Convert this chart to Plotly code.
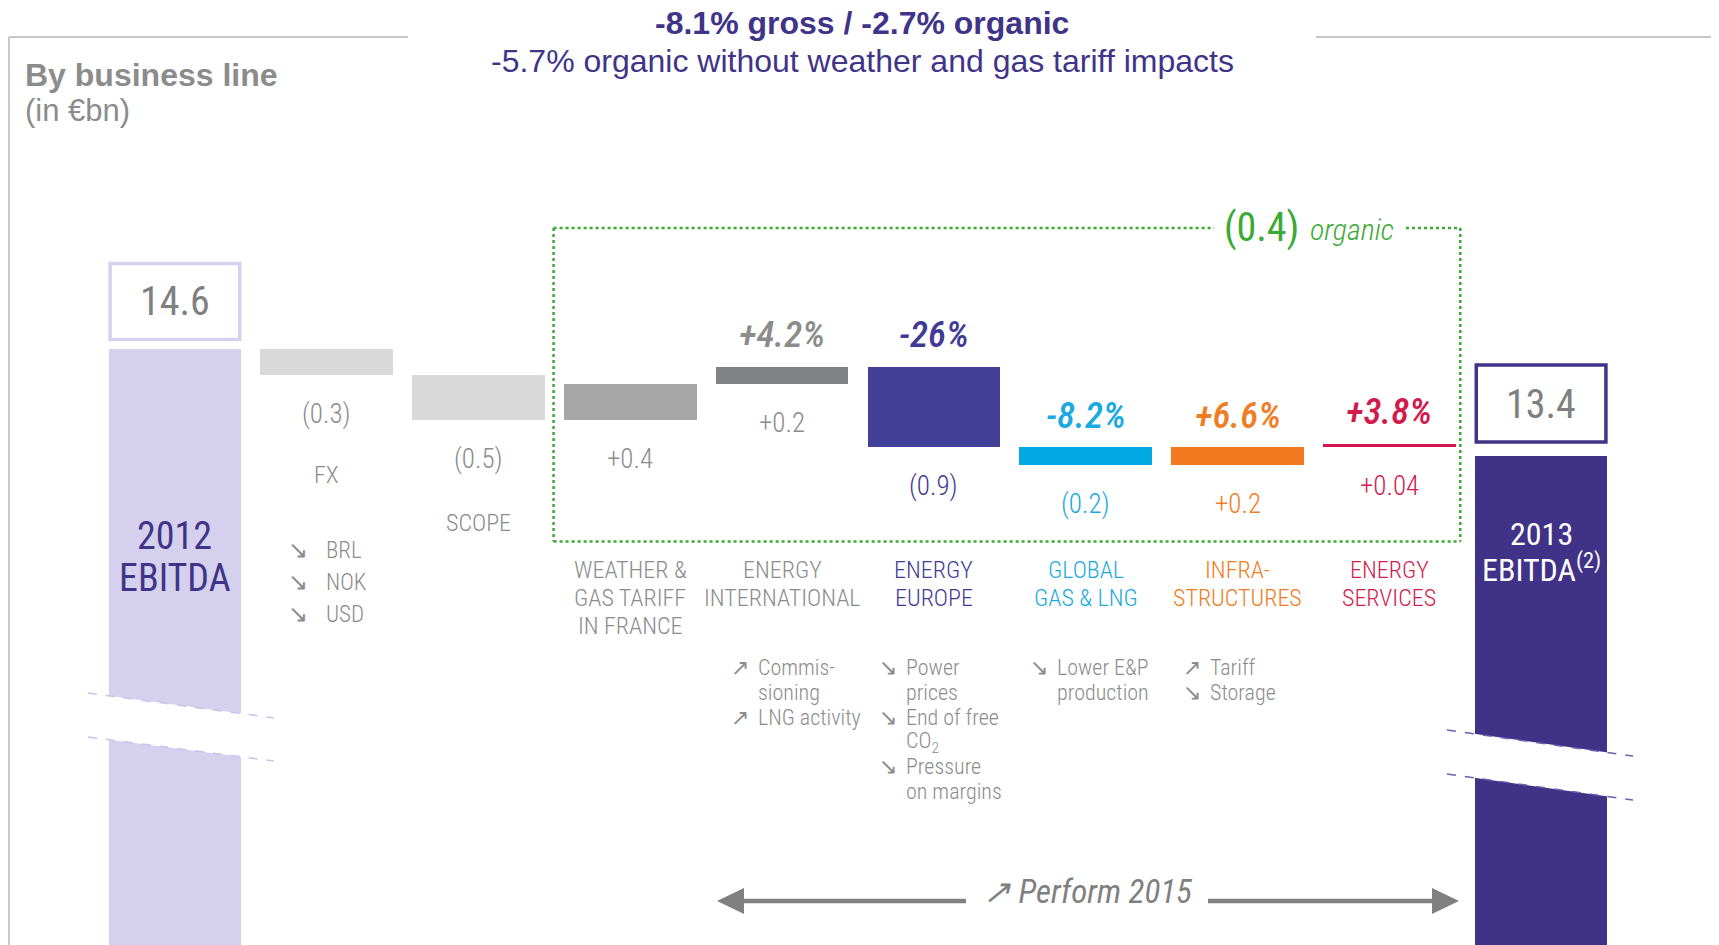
import plotly.graph_objects as go

W, H = 1719, 945

# ---- data (EUR bn) ----
steps = ["2012", "FX", "SCOPE", "WEATHER", "EI", "EE", "GGL", "INFRA", "ES", "2013"]
start_total = 14.6
end_total = 13.4
deltas = [-0.3, -0.5, 0.4, 0.2, -0.9, -0.2, 0.2, 0.04]
delta_labels = ["(0.3)", "(0.5)", "+0.4", "+0.2", "(0.9)", "(0.2)", "+0.2", "+0.04"]
growth_labels = ["", "", "", "+4.2%", "-26%", "-8.2%", "+6.6%", "+3.8%"]
category_labels = [[], ["FX"], ["SCOPE"], ["WEATHER &", "GAS TARIFF", "IN FRANCE"], ["ENERGY", "INTERNATIONAL"],
                   ["ENERGY", "EUROPE"], ["GLOBAL", "GAS & LNG"], ["INFRA-", "STRUCTURES"], ["ENERGY", "SERVICES"], []]
organic_total = "(0.4)"
bar_colors = ["#D5D0EE", "#D9D9D9", "#D9D9D9", "#A6A6A6", "#808285", "#423F99",
              "#00A9E3", "#F37A21", "#D5154D", "#3F3287"]
text_colors = ["#3F3488", "#8C8C8C", "#8C8C8C", "#8C8C8C", "#8C8C8C", "#3F3A96",
               "#1BA9E1", "#F07D23", "#D21B4D", "#FFFFFF"]
fx_items = ["BRL", "NOK", "USD"]
notes = {
    4: [("↗", ["Commis-", "sioning"]), ("↗", ["LNG activity"])],
    5: [("↘", ["Power", "prices"]), ("↘", ["End of free", "CO<sub>2</sub>"]), ("↘", ["Pressure", "on margins"])],
    6: [("↘", ["Lower E&P", "production"])],
    7: [("↗", ["Tariff"]), ("↘", ["Storage"])],
}

# ---- waterfall geometry from the data ----
bases, heights = [0], [start_total]
level = start_total
for d in deltas:
    bases.append(min(level, level + d))
    heights.append(abs(d))
    level += d
bases.append(0)
heights.append(end_total)
xs = list(range(len(steps)))

# page pixel <-> axis mapping (the page body adds an 8px margin)
OFF = 8
X0PX, XSTEP = 174.9 - OFF, 151.8
PPU, YREFPX = 89.6, 348.6 - OFF
BW = 0.874
xr = [-X0PX / XSTEP, (W - X0PX) / XSTEP]
yr = [start_total - (H - YREFPX) / PPU, start_total + YREFPX / PPU]

NARROW = "Liberation Sans Narrow, Roboto Condensed, Roboto, sans-serif"
ARIAL = "Liberation Sans, Arial, sans-serif"
GRAY = "#8C8C8C"
GREEN = "#3BAA34"


def px(x):
    return (x - OFF) / W


def py(y):
    return 1 - (y - OFF) / H


fig = go.Figure(go.Bar(x=xs, y=heights, base=bases, width=BW, marker=dict(color=bar_colors, line_width=0),
                       hoverinfo="skip"))

ann = []


def text(x, y, t, size, color, family=NARROW, xref="paper", yref="paper", xanchor="center", yanchor="middle",
         weight="normal", **kw):
    ann.append(dict(x=x, y=y, xref=xref, yref=yref, text=t, showarrow=False, xanchor=xanchor, yanchor=yanchor,
                    font=dict(size=size, color=color, family=family, weight=weight), **kw))


# titles
text(px(862), py(23), "<b>-8.1% gross / -2.7% organic</b>", 32, "#3F3488", ARIAL)
text(px(862), py(61), "-5.7% organic without weather and gas tariff impacts", 32, "#3F3488", ARIAL)
text(px(23), py(75), "<b>By business line</b>", 32, GRAY, ARIAL, xanchor="left")
text(px(23), py(111), "(in €bn)", 31, GRAY, ARIAL, xanchor="left")

# totals
text(0, start_total, "14.6", 40, "#808080", xref="x", yref="y", yshift=47)
text(9, end_total, "13.4", 40, "#808080", xref="x", yref="y", yshift=52)
text(0, start_total, "2012", 38, text_colors[0], xref="x", yref="y", yshift=-187)
text(0, start_total, "EBITDA", 38, text_colors[0], xref="x", yref="y", yshift=-229)
text(9, end_total, "2013", 32, text_colors[9], xref="x", yref="y", yshift=-78)
text(9, end_total, "EBITDA<sup>(2)</sup>", 32, text_colors[9], xref="x", yref="y", yshift=-112)

# deltas
for i in range(1, 9):
    text(i, bases[i], delta_labels[i - 1], 27, text_colors[i], xref="x", yref="y", yshift=-39, weight=300)
    if growth_labels[i - 1]:
        text(i, bases[i] + heights[i], "<i>" + growth_labels[i - 1] + "</i>", 37, text_colors[i],
             xref="x", yref="y", yshift=32, weight=500)

# category labels
text(1, py(475), category_labels[1][0], 24, GRAY, xref="x", weight=300)
text(2, py(523), category_labels[2][0], 24, GRAY, xref="x", weight=300)
for i in range(3, 9):
    for k, ln in enumerate(category_labels[i]):
        text(i, py(570 + k * 28), ln, 24, text_colors[i], xref="x", weight=300)

# FX currencies
for k, c in enumerate(fx_items):
    yy = py(550 + k * 32)
    text(1, yy, "↘", 24, GRAY, xref="x", xshift=-29)
    text(1, yy, c, 23, GRAY, xref="x", xanchor="left", xshift=-3, weight=300)

# driver notes
LH = 24.8
TXT_OFF = {4: -26, 5: -30, 6: -31, 7: -30}
for i, items in notes.items():
    row = 0
    for arrow, lines in items:
        text(i, py(667.6 + row * LH), arrow, 22, GRAY, xref="x", xshift=TXT_OFF[i] - 16)
        for ln in lines:
            text(i, py(667.6 + row * LH), ln, 22, GRAY, xref="x", xanchor="left", xshift=TXT_OFF[i], weight=300)
            row += 1

# organic box label
text(px(1261), py(227), organic_total, 40, GREEN)
text(px(1352), py(229), "<i>organic</i>", 30, GREEN, weight=300)

# Perform 2015
text(px(1088), py(891), "<i>↗ Perform 2015</i>", 33, "#808080")

shapes = []


def line(x0, y0, x1, y1, color, width, dash="solid"):
    shapes.append(dict(type="line", xref="paper", yref="paper", x0=px(x0), y0=py(y0), x1=px(x1), y1=py(y1),
                       line=dict(color=color, width=width, dash=dash)))


def poly(pts, color):
    path = "M " + " L ".join(f"{px(a)},{py(b)}" for a, b in pts) + " Z"
    shapes.append(dict(type="path", xref="paper", yref="paper", path=path, fillcolor=color,
                       line=dict(width=0)))


# frame
FR = "#C8C8C8"
line(9, 37, 9, H + 20, FR, 2)
line(9, 37, 408, 37, FR, 2)
line(1316, 37, 1716, 37, FR, 2)
line(1716, 37, 1716, H + 20, FR, 2)

# total boxes (sized in pixels, anchored at the bar top)
for i, val, col, y0, y1 in [(0, start_total, "#D6D1EF", 9, 85), (9, end_total, "#3F3488", 14, 91)]:
    shapes.append(dict(type="rect", xref="x", yref="y", ysizemode="pixel", yanchor=val, y0=y0, y1=y1,
                       x0=i - BW / 2 + 0.01, x1=i + BW / 2 - 0.01, fillcolor="white",
                       line=dict(color=col, width=3.5)))

# axis breaks
for (xa, xb, ua, ub, la, lb, col) in [(88, 274, 693, 718, 737, 761, "#C9C2EA"),
                                       (1447, 1633, 730, 756, 774, 800, "#6A5FB0")]:
    poly([(xa, ua), (xb, ub), (xb, lb), (xa, la)], "white")
    line(xa, ua, xb, ub, col, 1.5, "dash")
    line(xa, la, xb, lb, col, 1.5, "dash")

# organic box (dotted green)
GB = dict(l=553.6, r=1460.3, t=228, b=541.6)
line(GB["l"], GB["t"], GB["l"], GB["b"], GREEN, 2.5, "dot")
line(GB["l"], GB["b"], GB["r"], GB["b"], GREEN, 2.5, "dot")
line(GB["r"], GB["t"], GB["r"], GB["b"], GREEN, 2.5, "dot")
line(GB["l"], GB["t"], 1214, GB["t"], GREEN, 2.5, "dot")
line(1406, GB["t"], GB["r"], GB["t"], GREEN, 2.5, "dot")

# Perform 2015 double arrow
AC = "#808080"
line(740, 901, 966, 901, AC, 4.5)
line(1208, 901, 1436, 901, AC, 4.5)
poly([(717, 901), (744, 888), (744, 914)], AC)
poly([(1459, 901), (1432, 888), (1432, 914)], AC)

fig.update_layout(
    width=W, height=H, margin=dict(l=0, r=0, t=0, b=0),
    paper_bgcolor="white", plot_bgcolor="white", showlegend=False, bargap=0,
    xaxis=dict(range=xr, visible=False, fixedrange=True),
    yaxis=dict(range=yr, visible=False, fixedrange=True),
    annotations=ann, shapes=shapes,
)

fig.write_html("out.html")
